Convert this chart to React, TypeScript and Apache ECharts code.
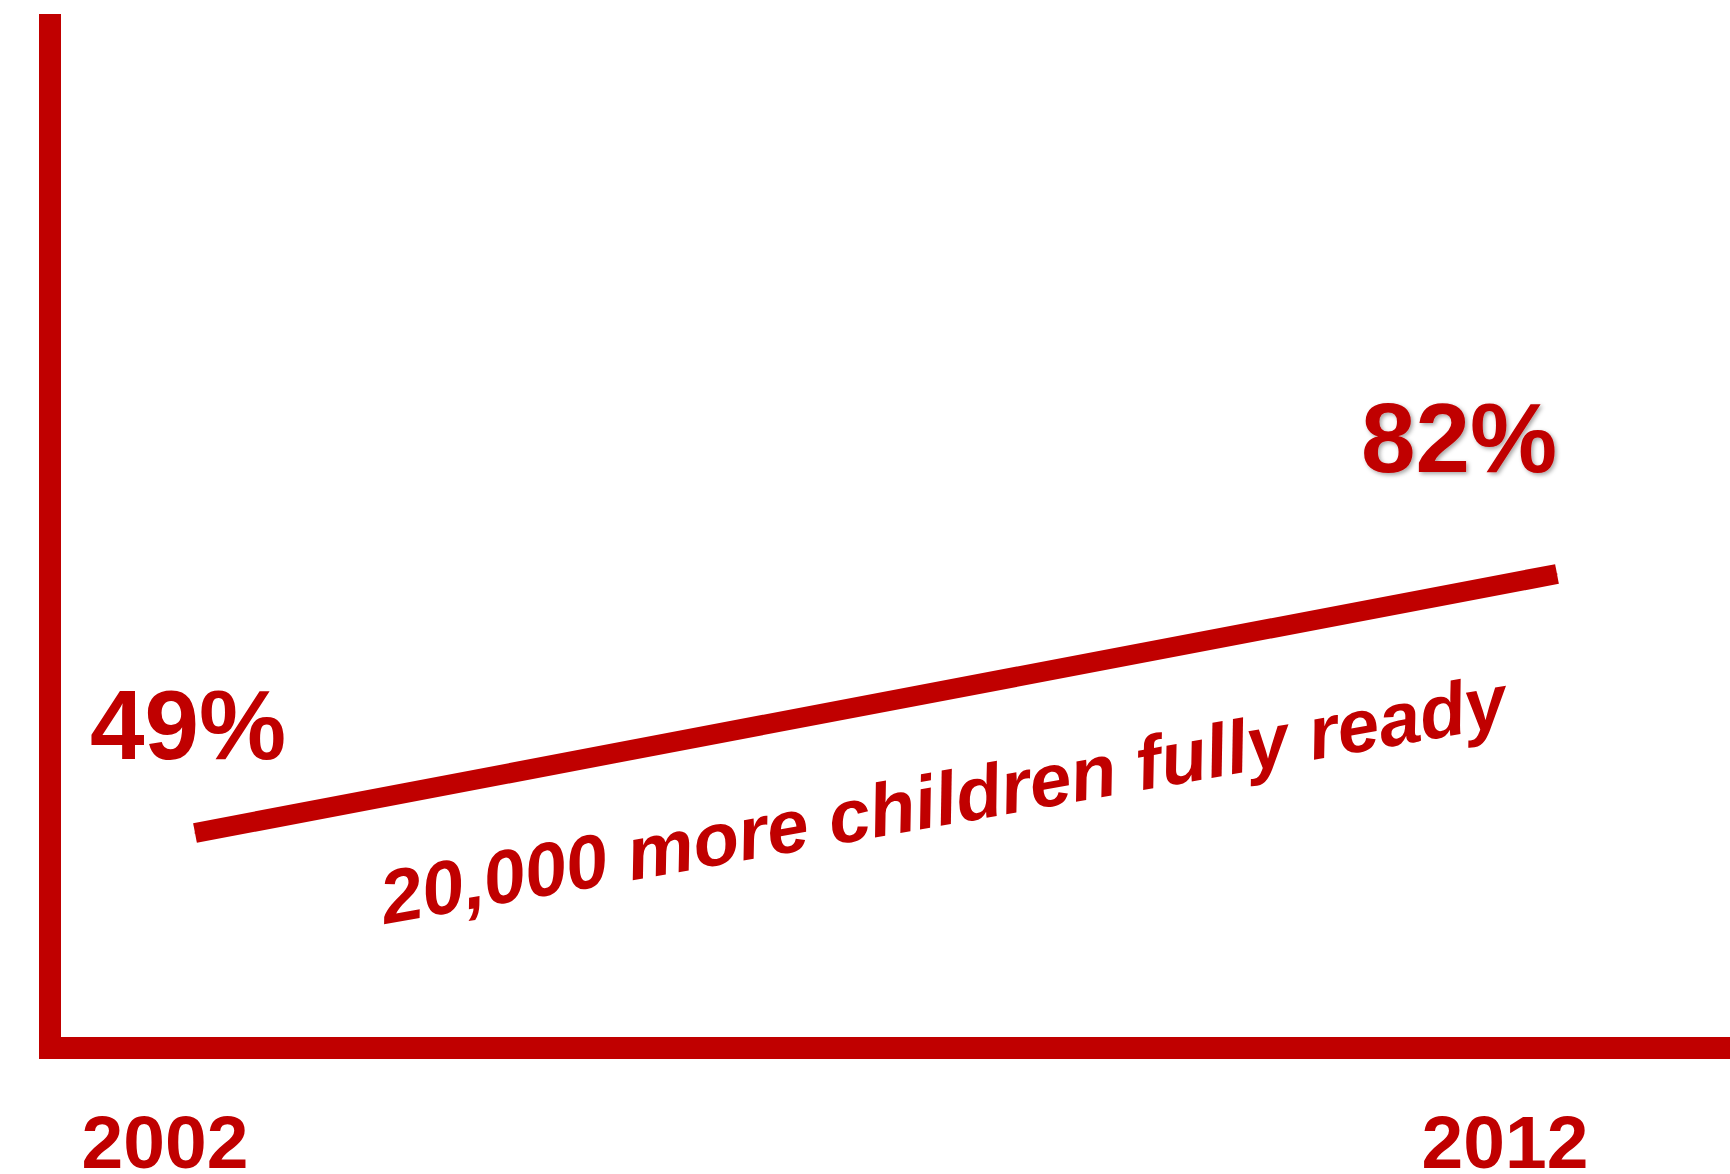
import React, { useEffect, useRef } from "react";
import * as echarts from "echarts";

// ---- data ----
const years: number[] = [2002, 2012];
const readiness: number[] = [49, 82];
const percentLabels: string[] = ["49%", "82%"];
const yearLabels: string[] = ["2002", "2012"];
const annotation = "20,000 more children fully ready";

const RED = "#C00000";
const FONT = '"Liberation Sans", Arial, Helvetica, sans-serif';

export default function App() {
  const ref = useRef<HTMLDivElement>(null);

  useEffect(() => {
    document.body.style.margin = "0";
    if (!ref.current) return;
    const chart = echarts.init(ref.current, undefined, { renderer: "svg" });

    const labelOffsets: [number, number][] = [
      [-7, -108],
      [-98, -136],
    ];
    const labelShadow = [
      {},
      {
        textShadowColor: "rgba(0,0,0,0.35)",
        textShadowBlur: 4,
        textShadowOffsetX: 2,
        textShadowOffsetY: 2,
      },
    ];

    const yearLabelX = [165, 1505];

    const option: any = {
      animation: false,
      backgroundColor: "#ffffff",
      grid: [
        { left: 50, right: 0, top: 25, bottom: 126, show: false },
        { left: 195, right: 173, top: 432.7, height: 627.9, show: false },
      ],
      xAxis: [
        {
          gridIndex: 0,
          type: "value",
          min: 0,
          max: 1,
          axisLine: { show: true, onZero: false, lineStyle: { color: RED, width: 22, cap: "square" } },
          axisTick: { show: false },
          axisLabel: { show: false },
          splitLine: { show: false },
        },
        { gridIndex: 1, type: "value", min: 2002, max: 2012, show: false },
      ],
      yAxis: [
        {
          gridIndex: 0,
          type: "value",
          min: 0,
          max: 1,
          axisLine: { show: true, onZero: false, lineStyle: { color: RED, width: 22, cap: "square" } },
          axisTick: { show: false },
          axisLabel: { show: false },
          splitLine: { show: false },
        },
        { gridIndex: 1, type: "value", min: 20, max: 100, show: false },
      ],
      series: [
        {
          type: "line",
          xAxisIndex: 1,
          yAxisIndex: 1,
          symbol: "circle",
          symbolSize: 1,
          lineStyle: { color: RED, width: 20, cap: "butt" },
          itemStyle: { color: RED },
          data: years.map((y, i) => ({
            value: [y, readiness[i]],
            label: {
              show: true,
              position: "inside",
              offset: labelOffsets[i],
              formatter: () => percentLabels[i],
              color: RED,
              fontFamily: FONT,
              fontWeight: "bold",
              fontSize: 98,
              ...labelShadow[i],
            },
          })),
          silent: true,
        },
      ],
      graphic: [
        ...yearLabels.map((t, i) => ({
          type: "text",
          x: yearLabelX[i],
          y: 1142,
          style: {
            text: t,
            fill: RED,
            fontFamily: FONT,
            fontWeight: "bold",
            fontSize: 75,
            lineHeight: 58,
            align: "center",
            verticalAlign: "middle",
          },
        })),
        {
          type: "text",
          x: 943,
          y: 799,
          rotation: (10 * Math.PI) / 180,
          style: {
            text: annotation,
            fill: RED,
            fontFamily: FONT,
            fontWeight: "bold",
            fontStyle: "italic",
            fontSize: 75,
            align: "center",
            verticalAlign: "middle",
          },
        },
      ],
    };

    chart.setOption(option);
    return () => chart.dispose();
  }, []);

  return <div ref={ref} style={{ width: 1730, height: 1174 }} />;
}
